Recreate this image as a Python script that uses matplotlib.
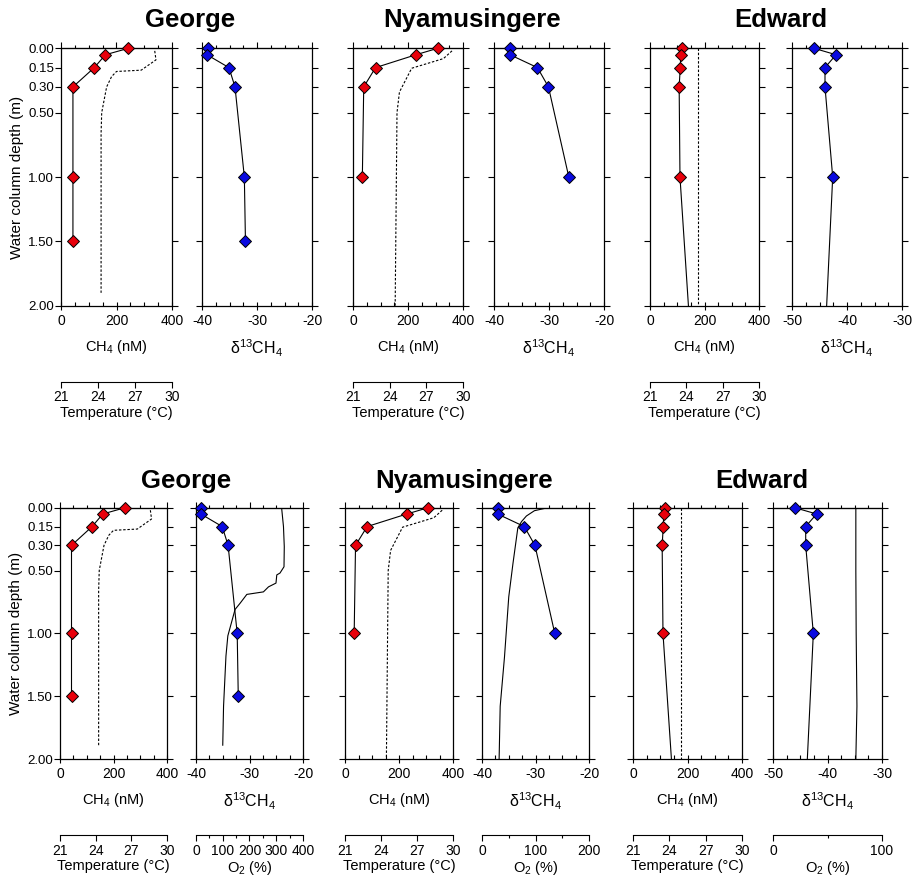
import matplotlib
matplotlib.use('Agg')
import matplotlib.pyplot as plt
from matplotlib.ticker import MultipleLocator, FixedLocator

plt.rcParams['font.family'] = ['Liberation Sans', 'DejaVu Sans']
plt.rcParams['mathtext.fontset'] = 'custom'
plt.rcParams['mathtext.rm'] = 'Liberation Sans'
plt.rcParams['mathtext.it'] = 'Liberation Sans:italic'
plt.rcParams['mathtext.default'] = 'regular'
plt.rcParams['axes.unicode_minus'] = False

lakes = ['George', 'Nyamusingere', 'Edward']

# sampled depths (m), CH4 (nM) and d13C-CH4
george_depth = [0.00, 0.05, 0.15, 0.30, 1.00, 1.50]
george_ch4 = [243, 160, 120, 43, 43, 43]
george_d13c = [-39.0, -39.1, -35.1, -34.0, -32.3, -32.1]

nyam_depth = [0.00, 0.05, 0.15, 0.30, 1.00]
nyam_ch4 = [308, 229, 82, 39, 34]
nyam_d13c = [-37.1, -37.1, -32.1, -30.1, -26.4]

# deepest Edward value has no marker
edward_depth = [0.00, 0.05, 0.15, 0.30, 1.00, 2.00]
edward_ch4 = [118, 113, 111, 107, 110, 141]
edward_d13c = [-46.0, -42.0, -44.0, -44.0, -42.6, -43.7]
edward_marked = [True, True, True, True, True, False]

# temperature profiles (degC)
george_t_depth = [0.02, 0.09, 0.17, 0.18, 0.22, 0.30, 0.40, 0.50, 0.66, 1.00, 1.90]
george_temp = [28.6, 28.7, 27.5, 25.5, 25.1, 24.7, 24.5, 24.3, 24.25, 24.25, 24.25]
nyam_t_depth = [0.02, 0.08, 0.155, 0.34, 0.50, 2.00]
nyam_temp = [29.1, 28.4, 25.8, 24.8, 24.6, 24.45]
edward_t_depth = [0.00, 1.00, 2.00]
edward_temp = [24.95, 24.95, 24.95]

# oxygen profiles (%)
george_o2_depth = [0.00, 0.15, 0.31, 0.47, 0.52, 0.535, 0.60, 0.63, 0.67, 0.69,
                   0.76, 0.81, 0.95, 1.02, 1.18, 1.58, 1.89]
george_o2 = [320, 327, 330, 329, 314, 302, 299, 271, 252, 190,
             165, 146, 128, 119, 112, 103, 100]
nyam_o2_depth = [0.00, 0.024, 0.066, 0.11, 0.16, 0.44, 0.71, 1.19, 1.58, 2.00]
nyam_o2 = [123, 98, 83, 74, 67, 58, 50, 42, 34, 32]
edward_o2_depth = [0.00, 0.50, 1.00, 1.58, 2.00]
edward_o2 = [76.0, 76.0, 76.3, 77.0, 76.0]

depth_ticks = [0.00, 0.15, 0.30, 0.50, 1.00, 1.50, 2.00]
d13c_lims = [(-40, -20), (-40, -20), (-50, -30)]
o2_lims = [(0, 400), (0, 200), (0, 100)]

data = [
    (george_depth, george_ch4, george_d13c, [True] * 6,
     george_t_depth, george_temp, george_o2_depth, george_o2),
    (nyam_depth, nyam_ch4, nyam_d13c, [True] * 5,
     nyam_t_depth, nyam_temp, nyam_o2_depth, nyam_o2),
    (edward_depth, edward_ch4, edward_d13c, edward_marked,
     edward_t_depth, edward_temp, edward_o2_depth, edward_o2),
]

W, H = 913, 883
fig = plt.figure(figsize=(W / 100, H / 100), dpi=100)

# panel edges in pixels
rows = [
    dict(y=(48.3, 305.7), title_y=20, title_x=[190, 472, 781],
         x=[(61, 172), (202, 312), (353, 463), (494, 604), (650, 759), (792, 902)]),
    dict(y=(507.7, 759), title_y=481, title_x=[186, 464, 762],
         x=[(60, 167), (196, 303), (345, 453), (482, 589), (633, 742), (773, 882)]),
]

TICK_FS = 10
YTICK_FS = 9.5
LAB_FS = 10.5


def make_ax(x0, x1, y0, y1):
    return fig.add_axes([x0 / W, 1 - y1 / H, (x1 - x0) / W, (y1 - y0) / H])


def style_axis(ax, lim, major, minor, first):
    ax.set_xlim(*lim)
    ax.set_ylim(2.0, 0.0)
    ax.xaxis.set_major_locator(MultipleLocator(major))
    ax.xaxis.set_minor_locator(MultipleLocator(minor))
    ax.yaxis.set_major_locator(FixedLocator(depth_ticks))
    ax.tick_params(axis='x', which='major', direction='inout', length=6,
                   width=0.8, labelsize=TICK_FS, pad=3)
    ax.tick_params(axis='x', which='minor', direction='in', length=3, width=0.8)
    ax.tick_params(axis='y', which='major', direction='out', length=4, width=0.8,
                   left=True, right=True, labelleft=first, labelsize=YTICK_FS, pad=1)
    if first:
        ax.set_yticklabels(['%.2f' % d for d in depth_ticks])
        ax.set_ylabel('Water column depth (m)', fontsize=11, labelpad=3)
    for s in ax.spines.values():
        s.set_linewidth(0.9)
    sec = ax.secondary_xaxis('top')
    sec.xaxis.set_major_locator(MultipleLocator(major))
    sec.xaxis.set_minor_locator(MultipleLocator(minor))
    sec.tick_params(which='major', direction='out', length=4, width=0.8, labeltop=False)
    sec.tick_params(which='minor', direction='out', length=2.5, width=0.8)


def extra_axis(ax, lim, major, minor, label):
    tw = ax.twiny()
    tw.set_xlim(*lim)
    tw.set_ylim(2.0, 0.0)
    tw.xaxis.set_ticks_position('bottom')
    tw.xaxis.set_label_position('bottom')
    tw.spines['bottom'].set_position(('outward', 55))
    for s in ['top', 'left', 'right']:
        tw.spines[s].set_visible(False)
    tw.spines['bottom'].set_linewidth(0.8)
    tw.xaxis.set_major_locator(MultipleLocator(major))
    if minor:
        tw.xaxis.set_minor_locator(MultipleLocator(minor))
    tw.tick_params(axis='x', which='major', direction='out', length=4, width=0.8,
                   labelsize=TICK_FS, pad=2)
    tw.tick_params(axis='x', which='minor', direction='out', length=2.5, width=0.8)
    tw.set_xlabel(label, fontsize=LAB_FS, labelpad=1)
    return tw


for r, row in enumerate(rows):
    y0, y1 = row['y']
    for i, lake in enumerate(lakes):
        depth, ch4, d13c, marked, t_depth, temp, o2_depth, o2 = data[i]
        mdepth = [d for d, m in zip(depth, marked) if m]

        # CH4 concentration panel
        ax = make_ax(*row['x'][2 * i], y0, y1)
        style_axis(ax, (0, 400), 200, 50, i == 0)
        ax.set_xlabel('CH$_4$ (nM)', fontsize=LAB_FS, labelpad=7)
        ax.plot(ch4, depth, color='black', lw=0.8, zorder=3)
        ax.plot([c for c, m in zip(ch4, marked) if m], mdepth, ls='none', marker='D',
                ms=5.8, mfc='#e8000b', mec='black', mew=0.7, zorder=4, clip_on=False)
        tw = extra_axis(ax, (21, 30), 3, None, 'Temperature (°C)')
        tw.plot(temp, t_depth, color='black', lw=0.8, ls=(0, (2.2, 1.6)))

        # d13C panel
        ax2 = make_ax(*row['x'][2 * i + 1], y0, y1)
        style_axis(ax2, d13c_lims[i], 10, 2.5, False)
        ax2.set_xlabel('δ$^{13}$CH$_4$', fontsize=11.5, labelpad=7)
        ax2.plot(d13c, depth, color='black', lw=0.8, zorder=3)
        ax2.plot([c for c, m in zip(d13c, marked) if m], mdepth, ls='none', marker='D',
                 ms=5.8, mfc='#0a0ae0', mec='black', mew=0.7, zorder=4, clip_on=False)
        if r == 1:
            tw2 = extra_axis(ax2, o2_lims[i], 100, 50, 'O$_2$ (%)')
            tw2.plot(o2, o2_depth, color='black', lw=0.8)

        fig.text(row['title_x'][i] / W, 1 - row['title_y'] / H, lake,
                 ha='center', va='center', fontsize=18.5, fontweight='bold')

fig.savefig('out.png', dpi=100)
